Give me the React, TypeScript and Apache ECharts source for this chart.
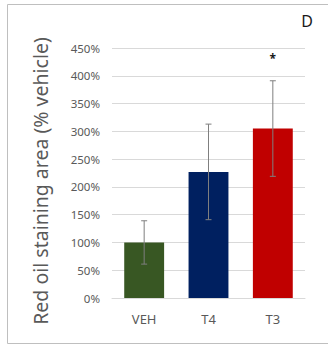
import React, { useEffect, useRef } from "react";
import * as echarts from "echarts";

const categories = ["VEH", "T4", "T3"];
const means = [100, 227, 305];
const errors = [39, 86, 86];
const signif = ["", "", "*"];
const barColors = ["#385723", "#002060", "#C00000"];
const yTicks = { min: 0, max: 450, interval: 50 };

export default function App() {
  const ref = useRef<HTMLDivElement>(null);
  useEffect(() => {
    const chart = echarts.init(ref.current!, null, { renderer: "svg" });
    const font = "'Noto Sans', 'Open Sans', sans-serif";
    chart.setOption({
      animation: false,
      backgroundColor: "#ffffff",
      grid: { left: 112, right: 23, top: 48, bottom: 48 },
      xAxis: {
        type: "category",
        data: categories,
        axisLine: { show: true, lineStyle: { color: "#d9d9d9" } },
        axisTick: { show: false },
        axisLabel: { color: "#595959", fontSize: 13, margin: 14, fontFamily: font },
      },
      yAxis: {
        type: "value",
        min: yTicks.min,
        max: yTicks.max,
        interval: yTicks.interval,
        axisLine: { show: false },
        axisTick: { show: false },
        splitLine: { lineStyle: { color: "#d9d9d9" } },
        axisLabel: { color: "#595959", fontSize: 11.5, margin: 12, fontFamily: font, formatter: "{value}%" },
      },
      graphic: [
        {
          type: "rect",
          shape: { x: 7.5, y: 4.5, width: 340, height: 339 },
          style: { fill: "none", stroke: "#bfbfbf", lineWidth: 1 },
          silent: true,
        },
        {
          type: "text",
          x: 307,
          y: 21,
          style: { text: "D", fontSize: 16, fontFamily: font, fill: "#1a1a1a", align: "center", verticalAlign: "middle" },
        },
        {
          type: "text",
          x: 40,
          y: 181,
          rotation: Math.PI / 2,
          style: {
            text: "Red oil staining area (% vehicle)",
            fontSize: 19.5,
            fontFamily: font,
            fill: "#595959",
            align: "center",
            verticalAlign: "middle",
          },
        },
      ],
      series: [
        {
          type: "bar",
          barWidth: "62%",
          data: means.map((v, i) => ({ value: v, itemStyle: { color: barColors[i] } })),
        },
        {
          type: "custom",
          data: means.map((v, i) => [i, v, errors[i]]),
          renderItem: (params: any, api: any) => {
            const x = api.value(0);
            const m = api.value(1);
            const e = api.value(2);
            const s = signif[params.dataIndex];
            const top = api.coord([x, m + e]);
            const bot = api.coord([x, m - e]);
            const hw = 3;
            const style = { stroke: "#7f7f7f", lineWidth: 1 };
            const children: any[] = [
              { type: "line", shape: { x1: top[0], y1: top[1], x2: bot[0], y2: bot[1] }, style },
              { type: "line", shape: { x1: top[0] - hw, y1: top[1], x2: top[0] + hw, y2: top[1] }, style },
              { type: "line", shape: { x1: bot[0] - hw, y1: bot[1], x2: bot[0] + hw, y2: bot[1] }, style },
            ];
            if (s) {
              children.push({
                type: "text",
                x: top[0],
                y: top[1] - 22,
                style: { text: s, fontSize: 12, fontWeight: "bold", fontFamily: font, fill: "#1a1a1a", align: "center", verticalAlign: "middle" },
              });
            }
            return { type: "group", children };
          },
          z: 10,
        },
      ],
    });
    return () => chart.dispose();
  }, []);
  return <div ref={ref} style={{ position: "fixed", left: 0, top: 0, width: 328, height: 346 }} />;
}
